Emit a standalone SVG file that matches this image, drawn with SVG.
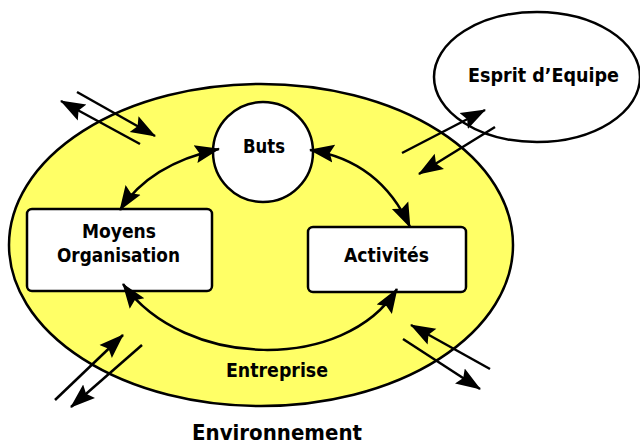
<svg xmlns="http://www.w3.org/2000/svg" width="640" height="446" viewBox="0 0 640 446">
  <style>
    .lbl { font-family: "DejaVu Sans Condensed", "DejaVu Sans", "Liberation Sans", sans-serif; font-stretch: condensed; font-weight: bold; font-size: 19px; fill: #000; text-anchor: middle; }
    .big { font-size: 21px; }
    .shape { stroke: #000; stroke-width: 2.5; }
    .link { fill: none; stroke: #000; stroke-width: 2.5; }
  </style>
  <defs>
    <marker id="head" viewBox="0 -10 25 20" refX="24" refY="0" markerUnits="userSpaceOnUse" markerWidth="25" markerHeight="20" orient="auto-start-reverse">
      <path d="M0,-9 L25,0 L0,9 L4,0 z" fill="#000"/>
    </marker>
  </defs>

  <!-- company area -->
  <g id="entreprise">
    <ellipse cx="261" cy="245" rx="252" ry="161" fill="#FFFF66" class="shape"/>
    <text class="lbl" x="277" y="377" textLength="102" lengthAdjust="spacingAndGlyphs">Entreprise</text>
  </g>

  <g id="esprit">
    <ellipse cx="537" cy="77" rx="103" ry="65" fill="#FFFFFF" class="shape"/>
    <text class="lbl" x="543.5" y="82" textLength="151" lengthAdjust="spacingAndGlyphs">Esprit d’Equipe</text>
  </g>

  <g id="buts">
    <circle cx="263" cy="152" r="50" fill="#FFFFFF" class="shape"/>
    <text class="lbl" x="264" y="153" textLength="42" lengthAdjust="spacingAndGlyphs">Buts</text>
  </g>

  <g id="moyens">
    <rect x="27" y="209" width="185" height="82" rx="5" fill="#FFFFFF" class="shape"/>
    <text class="lbl" x="119" y="238" textLength="74" lengthAdjust="spacingAndGlyphs">Moyens</text>
    <text class="lbl" x="118.5" y="262" textLength="123" lengthAdjust="spacingAndGlyphs">Organisation</text>
  </g>

  <g id="activites">
    <rect x="308" y="227" width="158" height="65" rx="5" fill="#FFFFFF" class="shape"/>
    <text class="lbl" x="386.5" y="262" textLength="85" lengthAdjust="spacingAndGlyphs">Activités</text>
  </g>

  <g id="environnement">
    <text class="lbl big" x="277" y="440" textLength="170" lengthAdjust="spacingAndGlyphs">Environnement</text>
  </g>

  <!-- connectors -->
  <g id="connectors">
    <!-- internal cycle -->
    <path class="link" d="M120,210 Q150,164 219,149" marker-start="url(#head)" marker-end="url(#head)"/>
    <path class="link" d="M310,150 Q380,161 410,227" marker-start="url(#head)" marker-end="url(#head)"/>
    <path class="link" d="M123,284 C185,370 345,372 397,289" marker-start="url(#head)" marker-end="url(#head)"/>

    <!-- exchanges with the environment -->
    <path class="link" d="M77,92 L155,136" marker-end="url(#head)"/>
    <path class="link" d="M140,144 L61,101" marker-end="url(#head)"/>
    <path class="link" d="M402,153 L485,110" marker-end="url(#head)"/>
    <path class="link" d="M495,127 L419,174" marker-end="url(#head)"/>
    <path class="link" d="M55,400 L123,335" marker-end="url(#head)"/>
    <path class="link" d="M142,345 L71,407" marker-end="url(#head)"/>
    <path class="link" d="M490,369 L411,325" marker-end="url(#head)"/>
    <path class="link" d="M403,339 L480,389" marker-end="url(#head)"/>
  </g>
</svg>
